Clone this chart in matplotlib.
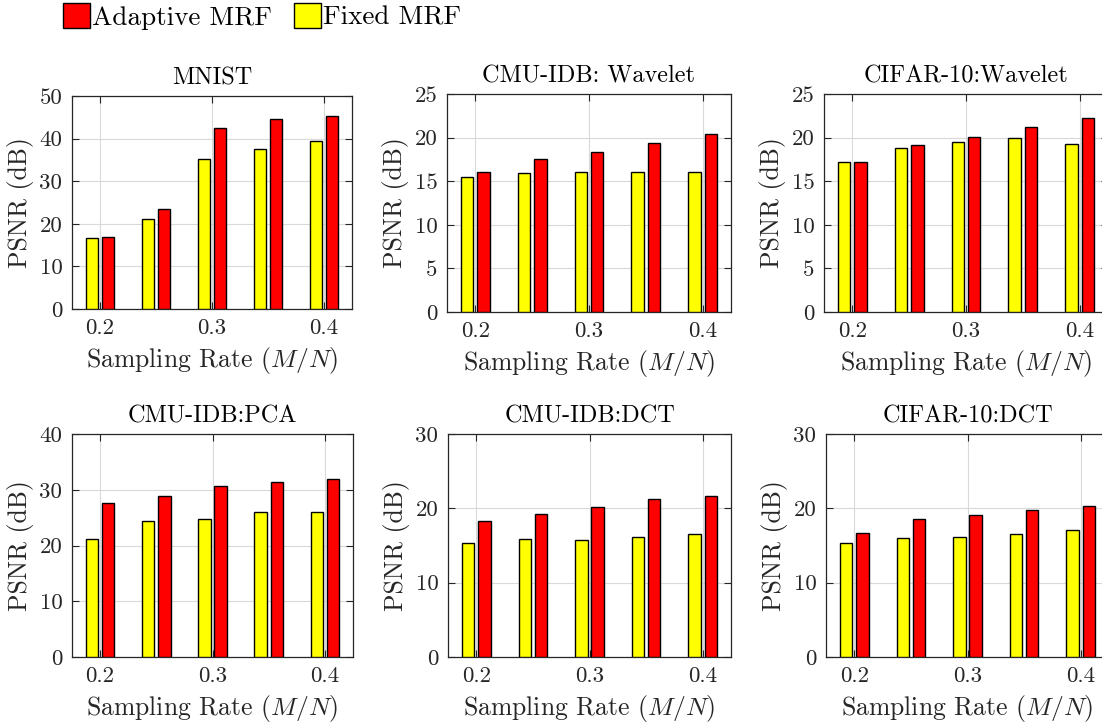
import matplotlib
matplotlib.use("Agg")
import matplotlib.pyplot as plt
from matplotlib.patches import Patch
import numpy as np

plt.rcParams['font.family'] = ['cmr10', 'DejaVu Serif']
plt.rcParams['mathtext.fontset'] = 'cm'
plt.rcParams['axes.unicode_minus'] = False

rates = [0.2, 0.25, 0.3, 0.35, 0.4]
xticks = [0.2, 0.3, 0.4]
xtick_labels = ["0.2", "0.3", "0.4"]

titles = ["MNIST", "CMU-IDB: Wavelet", "CIFAR-10:Wavelet",
          "CMU-IDB:PCA", "CMU-IDB:DCT", "CIFAR-10:DCT"]

fixed_mnist = [16.6, 21.1, 35.3, 37.5, 39.4]
adapt_mnist = [17.0, 23.5, 42.5, 44.5, 45.4]
fixed_cmu_wav = [15.5, 15.9, 16.0, 16.1, 16.1]
adapt_cmu_wav = [16.0, 17.5, 18.3, 19.4, 20.4]
fixed_cifar_wav = [17.2, 18.8, 19.5, 19.9, 19.3]
adapt_cifar_wav = [17.2, 19.2, 20.05, 21.2, 22.2]
fixed_cmu_pca = [21.2, 24.4, 24.8, 26.0, 26.0]
adapt_cmu_pca = [27.6, 28.9, 30.6, 31.4, 31.9]
fixed_cmu_dct = [15.4, 15.9, 15.7, 16.1, 16.5]
adapt_cmu_dct = [18.3, 19.2, 20.2, 21.2, 21.7]
fixed_cifar_dct = [15.3, 16.0, 16.2, 16.6, 17.1]
adapt_cifar_dct = [16.7, 18.5, 19.1, 19.8, 20.3]

fixed_all = [fixed_mnist, fixed_cmu_wav, fixed_cifar_wav,
             fixed_cmu_pca, fixed_cmu_dct, fixed_cifar_dct]
adapt_all = [adapt_mnist, adapt_cmu_wav, adapt_cifar_wav,
             adapt_cmu_pca, adapt_cmu_dct, adapt_cifar_dct]

ymax = [50, 25, 25, 40, 30, 30]
ystep = [10, 5, 5, 10, 10, 10]

# axes positions in pixels: left, top, right, bottom
W, H = 1102, 726
boxes = [(72, 96, 352, 309), (447, 94, 731, 312), (824, 94, 1108, 312),
         (72, 434, 353, 657), (448, 434, 731, 657), (826, 434, 1109, 657)]

fig = plt.figure(figsize=(W / 100, H / 100), dpi=100)

dark = '#262626'
bw = 0.011
off = 0.0072
for i in range(6):
    l, t, r, b = boxes[i]
    ax = fig.add_axes([l / W, 1 - b / H, (r - l) / W, (b - t) / H])
    x = np.array(rates)
    ax.bar(x - off, fixed_all[i], width=bw, color='#ffff00', edgecolor='black',
           linewidth=1.0, zorder=3)
    ax.bar(x + off, adapt_all[i], width=bw, color='#ff0000', edgecolor='black',
           linewidth=1.0, zorder=3)
    ax.set_xlim(0.175, 0.425)
    ax.set_ylim(0, ymax[i])
    yt = list(range(0, ymax[i] + 1, ystep[i]))
    ax.set_yticks(yt)
    ax.set_yticklabels([str(v) for v in yt])
    ax.set_xticks(xticks)
    ax.set_xticklabels(xtick_labels)
    ax.grid(True, color='#d9d9d9', linewidth=0.8, zorder=0)
    ax.set_axisbelow(True)
    ax.tick_params(direction='in', length=5, width=0.8, top=True, right=True,
                   labelsize=16.5, colors=dark, labelcolor=dark, pad=7)
    for s in ax.spines.values():
        s.set_color(dark)
        s.set_linewidth(0.9)
    ax.set_title(titles[i], fontsize=17.5, color='black', pad=8)
    ax.set_xlabel(r"Sampling Rate ($M/N$)", fontsize=18.5, color=dark, labelpad=5)
    ax.set_ylabel("PSNR (dB)", fontsize=18.5, color=dark, labelpad=4)

handles = [Patch(facecolor='#ff0000', edgecolor='black', label='Adaptive MRF'),
           Patch(facecolor='#ffff00', edgecolor='black', label='Fixed MRF')]
fig.legend(handles=handles, loc='upper left', bbox_to_anchor=(60 / W, 1.0),
           ncol=2, frameon=False, fontsize=19.5, handlelength=1.0,
           handleheight=1.05, handletextpad=0.08, columnspacing=0.8,
           borderaxespad=0.0, borderpad=0.1)

fig.savefig("out.png", dpi=100)
